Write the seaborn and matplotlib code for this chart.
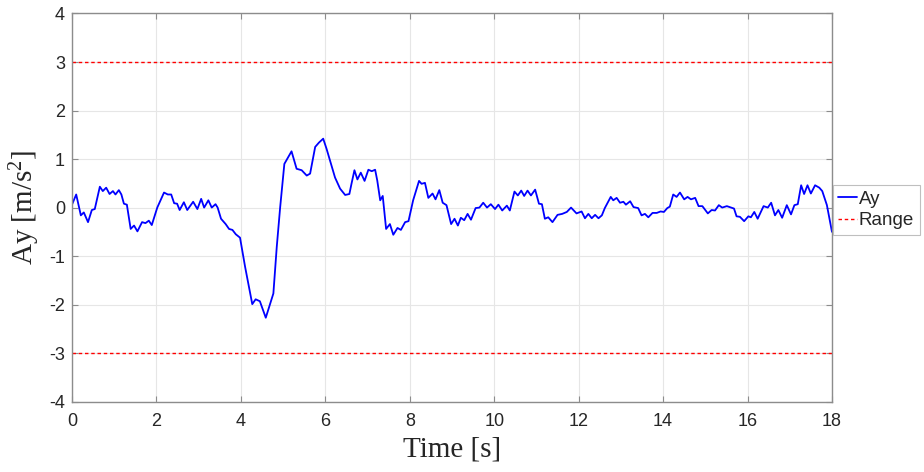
import matplotlib
matplotlib.use("Agg")
import matplotlib.pyplot as plt
import seaborn as sns
import pandas as pd

# Lateral acceleration trace
time_s = [
    0.00, 0.10, 0.21, 0.28, 0.38, 0.47, 0.54, 0.66, 0.73, 0.81, 0.89, 0.97,
    1.03, 1.11, 1.17, 1.23, 1.30, 1.39, 1.47, 1.55, 1.66, 1.74, 1.82, 1.89,
    2.02, 2.18, 2.27, 2.35, 2.42, 2.49, 2.55, 2.65, 2.73, 2.87, 2.97, 3.06,
    3.13, 3.23, 3.31, 3.40, 3.45, 3.53, 3.64, 3.72, 3.80, 3.88, 3.98, 4.10,
    4.27, 4.35, 4.45, 4.59, 4.67, 4.77, 4.85, 4.93, 5.03, 5.20, 5.32, 5.44,
    5.56, 5.64, 5.76, 5.85, 5.95, 6.03, 6.23, 6.35, 6.47, 6.57, 6.62, 6.69,
    6.76, 6.84, 6.93, 7.02, 7.10, 7.18, 7.23, 7.30, 7.36, 7.44, 7.53, 7.61,
    7.71, 7.79, 7.89, 7.97, 8.08, 8.22, 8.28, 8.36, 8.44, 8.54, 8.61, 8.70,
    8.78, 8.87, 8.98, 9.06, 9.14, 9.21, 9.29, 9.37, 9.45, 9.56, 9.65, 9.74,
    9.83, 9.92, 10.02, 10.10, 10.19, 10.30, 10.37, 10.48, 10.56, 10.64, 10.71,
    10.79, 10.87, 10.97, 11.06, 11.13, 11.20, 11.28, 11.38, 11.50, 11.61,
    11.72, 11.82, 11.95, 12.07, 12.15, 12.23, 12.31, 12.39, 12.47, 12.55,
    12.62, 12.76, 12.82, 12.90, 12.98, 13.06, 13.12, 13.22, 13.30, 13.41,
    13.49, 13.57, 13.65, 13.75, 13.85, 13.94, 14.02, 14.10, 14.16, 14.24,
    14.32, 14.40, 14.50, 14.58, 14.66, 14.76, 14.84, 14.93, 15.06, 15.15,
    15.23, 15.32, 15.40, 15.51, 15.61, 15.68, 15.74, 15.82, 15.92, 16.02,
    16.08, 16.16, 16.24, 16.38, 16.48, 16.56, 16.65, 16.73, 16.82, 16.93,
    17.03, 17.11, 17.19, 17.27, 17.34, 17.42, 17.50, 17.60, 17.70, 17.77,
    17.88, 18.00,
]
ay = [
    0.06, 0.27, -0.16, -0.10, -0.30, -0.05, -0.03, 0.43, 0.34, 0.41, 0.28, 0.34,
    0.27, 0.36, 0.27, 0.08, 0.06, -0.44, -0.37, -0.49, -0.30, -0.32, -0.27, -0.36,
    0.00, 0.31, 0.27, 0.27, 0.09, 0.08, -0.05, 0.11, -0.05, 0.12, -0.03, 0.18,
    0.00, 0.15, 0.00, 0.07, 0.00, -0.23, -0.34, -0.44, -0.46, -0.55, -0.62, -1.22,
    -1.99, -1.89, -1.93, -2.27, -2.05, -1.77, -0.81, 0.00, 0.90, 1.16, 0.80, 0.77,
    0.66, 0.70, 1.25, 1.34, 1.42, 1.21, 0.62, 0.39, 0.26, 0.28, 0.49, 0.77,
    0.58, 0.72, 0.55, 0.78, 0.75, 0.78, 0.56, 0.15, 0.24, -0.44, -0.34, -0.56,
    -0.42, -0.46, -0.30, -0.28, 0.15, 0.55, 0.49, 0.51, 0.20, 0.29, 0.17, 0.36,
    0.10, 0.05, -0.34, -0.23, -0.37, -0.21, -0.26, -0.13, -0.25, -0.01, 0.00, 0.10,
    0.00, 0.07, -0.03, 0.06, -0.06, 0.04, -0.06, 0.33, 0.25, 0.35, 0.24,
    0.35, 0.25, 0.37, 0.08, 0.07, -0.23, -0.20, -0.30, -0.15, -0.13,
    -0.09, 0.00, -0.12, -0.08, -0.22, -0.13, -0.22, -0.15, -0.22, -0.16,
    -0.01, 0.22, 0.15, 0.20, 0.10, 0.12, 0.06, 0.13, 0.01, -0.01,
    -0.16, -0.13, -0.20, -0.11, -0.11, -0.08, -0.09, -0.01, 0.02, 0.27,
    0.22, 0.31, 0.17, 0.22, 0.17, 0.20, 0.03, 0.03, -0.12, -0.05,
    -0.06, 0.05, 0.00, 0.03, 0.00, -0.02, -0.18, -0.19, -0.28, -0.18,
    -0.20, -0.09, -0.23, 0.03, 0.00, 0.10, -0.16, -0.05, -0.21, 0.05,
    -0.14, 0.05, 0.07, 0.46, 0.28, 0.46, 0.29, 0.46, 0.41, 0.34,
    0.05, -0.50,
]
range_limits = [3, -3]
x_ticks = list(range(0, 19, 2))
y_ticks = list(range(-4, 5))

df = pd.DataFrame({"Time": time_s, "Ay": ay})

sns.set_theme(style="white")
plt.rcParams["font.family"] = ["Liberation Sans", "DejaVu Sans"]
plt.rcParams["axes.unicode_minus"] = False
plt.rcParams["mathtext.fontset"] = "custom"
plt.rcParams["mathtext.rm"] = "Liberation Serif"
plt.rcParams["mathtext.it"] = "Liberation Serif:italic"

fig = plt.figure(figsize=(9.24, 4.72), dpi=100)
ax = fig.add_axes([0.0779, 0.149, 0.8225, 0.8224])

sns.lineplot(data=df, x="Time", y="Ay", ax=ax, color="#0000ff",
             linewidth=1.3, estimator=None, sort=False, label="Ay")
for i, lim in enumerate(range_limits):
    ax.axhline(lim, color="#ff0000", linestyle=(0, (2.5, 2)), linewidth=1.0,
               label="Range" if i == 0 else None)

ax.set_xlim(0, 18)
ax.set_ylim(-4, 4)
ax.set_xticks(x_ticks)
ax.set_yticks(y_ticks)
ax.grid(True, color="#e6e6e6", linewidth=0.8)
ax.set_axisbelow(True)

for side in ["left", "right", "top", "bottom"]:
    ax.spines[side].set_visible(True)
    ax.spines[side].set_color("#8c8c8c")
    ax.spines[side].set_linewidth(1.0)

ax.tick_params(axis="both", which="major", direction="in", length=4,
               width=0.8, color="#8c8c8c", labelsize=13, labelcolor="#262626",
               top=True, right=True, left=True, bottom=True)
ax.tick_params(axis="x", pad=8)
ax.tick_params(axis="y", pad=5)

ax.set_xlabel("Time [s]", family="Liberation Serif", fontsize=21,
              color="#262626", labelpad=5)
ax.set_ylabel(r"Ay [m/s$^{2}$]", family="Liberation Serif", fontsize=21,
              color="#262626", labelpad=5)

leg = ax.legend(loc="center left", bbox_to_anchor=(1.001, 0.494), fontsize=13.5,
                frameon=True, fancybox=False, borderpad=0.3,
                handlelength=1.0, handletextpad=0.1, labelspacing=0.25,
                borderaxespad=0.0)
leg.get_frame().set_edgecolor("#b0b0b0")
leg.get_frame().set_linewidth(0.8)
for t in leg.get_texts():
    t.set_color("#262626")

fig.savefig("out.png", dpi=100, facecolor="white")
